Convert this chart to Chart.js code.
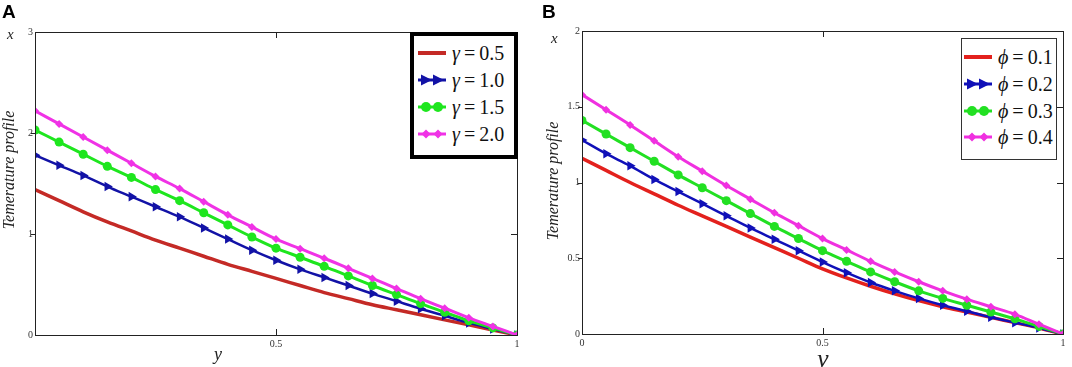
<!DOCTYPE html>
<html><head><meta charset="utf-8">
<script src="https://cdn.jsdelivr.net/npm/chart.js@4.4.1/dist/chart.umd.min.js"></script>
<style>
html,body{margin:0;padding:0;background:#fff;width:1072px;height:367px;overflow:hidden;position:relative;}
canvas{position:absolute;top:0;}
.lbl{position:absolute;white-space:nowrap;line-height:1;}
.panel{font-family:"Liberation Sans",Arial,sans-serif;font-weight:bold;font-size:19px;color:#000;}
.it{font-style:italic;font-family:"Liberation Serif","Times New Roman",Tinos,"DejaVu Serif",serif;color:#222;}
.ytitle{transform:translate(-50%,-50%) rotate(-90deg);font-size:16px;}
.leg{position:absolute;background:#fff;box-sizing:border-box;}
.row{position:absolute;left:0;height:22px;display:flex;align-items:center;}
.row svg{margin-right:5px;flex:none}
.row span{font-size:20px;font-family:"Liberation Serif","Times New Roman",Tinos,"DejaVu Serif",serif;color:#111;white-space:nowrap;}
.row span i{font-style:italic}
</style></head>
<body>
<canvas id="cA" width="536" height="367" style="left:0"></canvas>
<canvas id="cB" width="536" height="367" style="left:536px"></canvas>

<div class="lbl panel" style="left:2px;top:2px">A</div>
<div class="lbl panel" style="left:542px;top:2px">B</div>
<div class="lbl it" style="left:7px;top:27px;font-size:15px">x</div>
<div class="lbl it" style="left:551px;top:31px;font-size:15px">x</div>
<div class="lbl it ytitle" style="left:9px;top:170px">Temerature profile</div>
<div class="lbl it ytitle" style="left:553px;top:181px">Temerature profile</div>
<div class="lbl it" style="left:214px;top:345px;font-size:18px">y</div>
<div class="lbl it" style="left:817px;top:346px;font-size:26px">y</div>

<div class="leg" id="legA" style="left:410px;top:32px;width:108px;height:127px;border:4px solid #000"></div>
<div class="leg" id="legB" style="left:961px;top:38px;width:96px;height:122px;border:1.5px solid #333"></div>

<script>
// ---- shared x positions (read along the horizontal axis) ----
const xValues = [0,0.05,0.1,0.15,0.2,0.25,0.3,0.35,0.4,0.45,0.5,0.55,0.6,0.65,0.7,0.75,0.8,0.85,0.9,0.95,1];

// ---- Panel A: gamma series ----
const gammaLabels = ['0.5','1.0','1.5','2.0'];
const gamma05 = [1.44,1.33,1.22,1.12,1.03,0.94,0.86,0.78,0.70,0.63,0.56,0.49,0.42,0.36,0.30,0.25,0.20,0.15,0.10,0.05,0];
const gamma10 = [1.78,1.68,1.58,1.47,1.37,1.27,1.17,1.06,0.95,0.84,0.74,0.65,0.57,0.49,0.41,0.335,0.26,0.19,0.12,0.06,0];
const gamma15 = [2.03,1.91,1.79,1.67,1.56,1.44,1.33,1.21,1.09,0.97,0.86,0.77,0.68,0.585,0.49,0.40,0.31,0.225,0.14,0.07,0];
const gamma20 = [2.22,2.09,1.96,1.83,1.70,1.57,1.45,1.32,1.19,1.07,0.95,0.855,0.76,0.66,0.56,0.46,0.36,0.265,0.17,0.085,0];
const xTicksA = ['', '0.5', '1'];
const yTicksA = ['0', '1', '2', '3'];

// ---- Panel B: phi series ----
const phiLabels = ['0.1','0.2','0.3','0.4'];
const phi01 = [1.16,1.08,1.00,0.925,0.85,0.78,0.71,0.64,0.57,0.50,0.43,0.37,0.315,0.265,0.22,0.18,0.145,0.11,0.075,0.04,0];
const phi02 = [1.28,1.19,1.11,1.02,0.94,0.86,0.78,0.70,0.625,0.55,0.475,0.405,0.34,0.285,0.235,0.19,0.15,0.11,0.075,0.04,0];
const phi03 = [1.41,1.32,1.23,1.14,1.05,0.965,0.88,0.795,0.71,0.63,0.55,0.48,0.41,0.345,0.285,0.235,0.19,0.145,0.10,0.05,0];
const phi04 = [1.58,1.48,1.38,1.275,1.17,1.075,0.98,0.89,0.80,0.715,0.63,0.555,0.48,0.41,0.345,0.285,0.23,0.18,0.13,0.065,0];
const xTicksB = ['0', '0.5', '1'];
const yTicksB = ['0', '0.5', '1', '1.5', '2'];

const stylesA = [
  {color:'#c42a26', marker:'none', width:3.5},
  {color:'#1212a6', marker:'triangle', width:2.5},
  {color:'#1ee61e', marker:'circle', width:3},
  {color:'#f032e6', marker:'rectRot', width:3}
];
const stylesB = [
  {color:'#e3211d', marker:'none', width:3.5},
  {color:'#1010b8', marker:'triangle', width:2.5},
  {color:'#22e022', marker:'circle', width:3},
  {color:'#f030e0', marker:'rectRot', width:3}
];

const serifStack = '"Liberation Serif", "Times New Roman", Tinos, "DejaVu Serif", serif';

function toPts(ys){ return xValues.map((x,i)=>({x:x,y:ys[i]})); }

function makeDatasets(series, labels, styles, sym){
  return series.map((ys,i)=>{
    const st = styles[i];
    const d = {
      label: sym + ' = ' + labels[i],
      data: toPts(ys),
      borderColor: st.color,
      backgroundColor: st.color,
      borderWidth: st.width,
      cubicInterpolationMode: 'monotone',
      order: 4 - i,
      pointRadius: 0,
      pointHoverRadius: 0
    };
    if (st.marker === 'triangle') { d.pointStyle='triangle'; d.rotation=90; d.pointRadius=5.5; d.pointBorderWidth=0; }
    if (st.marker === 'circle') { d.pointStyle='circle'; d.pointRadius=4.5; d.pointBorderWidth=0; }
    if (st.marker === 'rectRot') { d.pointStyle='rectRot'; d.pointRadius=4; d.pointBorderWidth=0; }
    return d;
  });
}

const framePlugin = {
  id:'frame',
  afterDatasetsDraw(chart){
    const {ctx, chartArea:a, scales:{x,y}} = chart;
    ctx.save();
    ctx.strokeStyle='#222'; ctx.lineWidth=1;
    ctx.strokeRect(Math.round(a.left)+0.5, Math.round(a.top)+0.5, Math.round(a.right-a.left), Math.round(a.bottom-a.top));
    ctx.beginPath();
    x.ticks.forEach(t=>{
      if (t.value<=x.min || t.value>=x.max) return;
      const px=Math.round(x.getPixelForValue(t.value))+0.5;
      ctx.moveTo(px,a.bottom); ctx.lineTo(px,a.bottom-6);
      ctx.moveTo(px,a.top); ctx.lineTo(px,a.top+6);
    });
    y.ticks.forEach(t=>{
      if (t.value<=y.min || t.value>=y.max) return;
      const py=Math.round(y.getPixelForValue(t.value))+0.5;
      ctx.moveTo(a.left-4,py); ctx.lineTo(a.left,py);
      ctx.moveTo(a.right,py); ctx.lineTo(a.right-6,py);
    });
    ctx.stroke();
    ctx.restore();
  }
};

function makeChart(id, datasets, o){
  const tickFont = {family:serifStack, size:10};
  return new Chart(document.getElementById(id), {
    type:'line',
    data:{datasets:datasets},
    options:{
      responsive:false,
      animation:false,
      events:[],
      layout:{padding:{top:o.top, right:o.right, left:0, bottom:0}},
      plugins:{legend:{display:false}, tooltip:{enabled:false}},
      scales:{
        x:{type:'linear', min:0, max:1,
           ticks:{stepSize:0.5, font:tickFont, color:'#333', padding:3, maxRotation:0,
                  callback:(v,i)=>o.xTicks[i]},
           grid:{display:false, drawTicks:false}, border:{display:false},
           afterFit:s=>{s.height=o.xh;}},
        y:{type:'linear', min:0, max:o.ymax,
           ticks:{stepSize:o.ystep, font:tickFont, color:'#333', padding:2,
                  callback:(v,i)=>o.yTicks[i]},
           grid:{display:false, drawTicks:false}, border:{display:false},
           afterFit:s=>{s.width=o.yw;}}
      }
    },
    plugins:[framePlugin]
  });
}

makeChart('cA', makeDatasets([gamma05,gamma10,gamma15,gamma20], gammaLabels, stylesA, 'γ'),
  {top:32, right:19, xh:32, yw:35, ymax:3, ystep:1, xTicks:xTicksA, yTicks:yTicksA});
makeChart('cB', makeDatasets([phi01,phi02,phi03,phi04], phiLabels, stylesB, 'ϕ'),
  {top:31, right:9, xh:33, yw:46, ymax:2, ystep:0.5, xTicks:xTicksB, yTicks:yTicksB});

// ---- legends (HTML text) ----
function swatch(st){
  let s = '<svg width="30" height="14" viewBox="0 0 30 14">';
  s += '<line x1="1" y1="7" x2="29" y2="7" stroke="'+st.color+'" stroke-width="'+(st.marker==='none'?4:3)+'"/>';
  [9,21].forEach(c=>{
    if (st.marker==='triangle') s += '<polygon points="'+(c-5)+',1.5 '+(c+6)+',7 '+(c-5)+',12.5" fill="'+st.color+'"/>';
    if (st.marker==='circle') s += '<circle cx="'+c+'" cy="7" r="5" fill="'+st.color+'"/>';
    if (st.marker==='rectRot') s += '<polygon points="'+c+',2.5 '+(c+4.5)+',7 '+c+',11.5 '+(c-4.5)+',7" fill="'+st.color+'"/>';
  });
  return s + '</svg>';
}
function buildLegend(id, labels, styles, sym, rowTops, left){
  const el = document.getElementById(id);
  labels.forEach((lab,i)=>{
    const r = document.createElement('div');
    r.className='row';
    r.style.top = rowTops[i]+'px';
    r.style.left = left+'px';
    r.innerHTML = swatch(styles[i]) + '<span><i>'+sym+'</i>\u2009=\u2009'+lab+'</span>';
    el.appendChild(r);
  });
}
buildLegend('legA', gammaLabels, stylesA, 'γ', [6,33,60,87], 3);
buildLegend('legB', phiLabels, stylesB, 'ϕ', [7,34,61,87], 1);
</script>
</body></html>
